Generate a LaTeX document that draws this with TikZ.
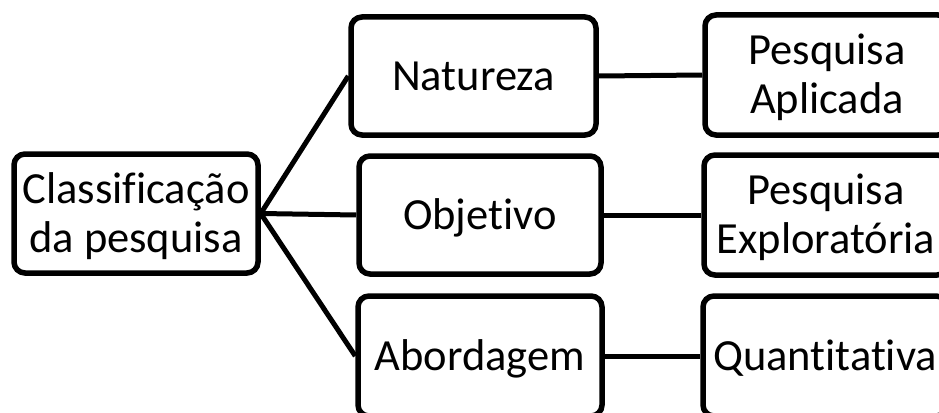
\documentclass[tikz,border=0pt]{standalone}
\usepackage{fontspec}
\setmainfont{Carlito}[Ligatures=NoCommon]
\begin{document}
\begin{tikzpicture}[x=1pt,y=-1pt,
  box/.style={draw=black, line width=5.5pt, rounded corners=11pt, fill=white,
    inner sep=0pt, minimum width=244pt, minimum height=120pt, align=center,
    font=\fontsize{44.5}{49}\selectfont, text height=28pt, text depth=0pt},
  twoline/.style={text height=77pt},
  link/.style={draw=black, line width=5pt}]
  \useasboundingbox (0,0) rectangle (939,412);
  \clip (0,0) rectangle (939,412);

  % root
  \node[box, twoline, minimum width=244pt, minimum height=119pt] (root) at (136,213.5) {Classificação\\da pesquisa};

  % middle column
  \node[box, minimum width=245pt, minimum height=118pt] (nat) at (473.5,76) {Natureza};
  \node[box, minimum width=242pt, minimum height=118pt] (obj) at (480,215) {Objetivo};
  \node[box] (abo) at (480,356) {Abordagem};

  % right column
  \node[box, twoline] (apl) at (827,75) {Pesquisa\\Aplicada};
  \node[box, twoline] (exp) at (826,215) {Pesquisa\\Exploratória};
  \node[box] (qua) at (825,356) {Quantitativa};

  % connectors
  \coordinate (fork) at (root.east);
  \draw[link] (fork) -- (nat.west);
  \draw[link] (fork) -- (obj.west);
  \draw[link] (fork) -- (abo.west);
  \draw[link] (nat.east) -- (apl.west);
  \draw[link] (obj.east) -- (exp.west);
  \draw[link] (abo.east) -- (qua.west);
\end{tikzpicture}
\end{document}
